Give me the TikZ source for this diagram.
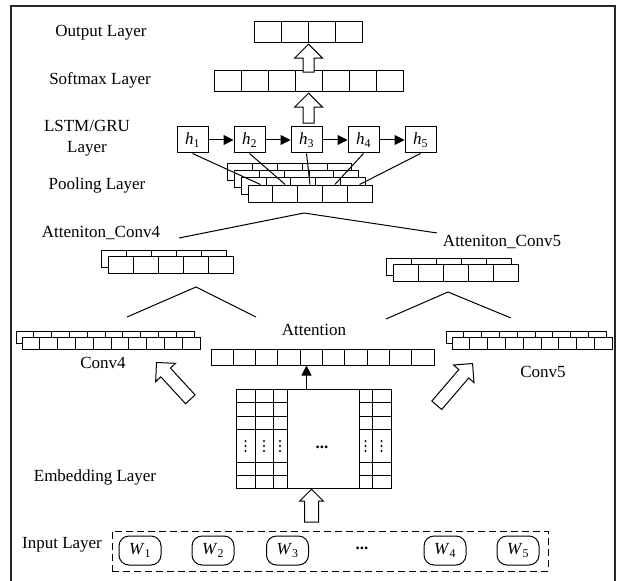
\documentclass[tikz,border=0pt]{standalone}
\usepackage{fontspec}
\setmainfont{Liberation Serif}
\usetikzlibrary{shapes.arrows,arrows.meta,calc}

\begin{document}
\begin{tikzpicture}[x=1pt, y=-1pt, line width=1pt,
  lbl/.style={inner sep=0pt, font=\fontsize{17}{21}\selectfont, align=center},
  cell/.style 2 args={draw, fill=white, inner sep=0pt, minimum width=#1, minimum height=#2},
  hbox/.style={draw, fill=white, inner sep=0pt, minimum width=31, minimum height=26, font=\fontsize{17}{21}\selectfont},
  word/.style={draw, rounded corners=10pt, inner sep=0pt, minimum width=42, minimum height=29, font=\fontsize{17}{21}\selectfont},
  hollow/.style={single arrow, draw, fill=white, inner xsep=0pt, inner ysep=5pt, single arrow head extend=8.5pt, minimum height=#1, anchor=tip},
  link/.style={-{Triangle[length=10pt,width=10pt]}}]

\useasboundingbox (0,0) rectangle (620,580);
\draw[line width=1.6pt, black!85] (11,590) -- (11,6) -- (615,6) -- (615,590);

% Output layer
\node[lbl] (outlbl) at (101,33) {Output Layer};
\foreach \i in {1,...,4}
  \node[cell={27}{21}] (out\i) at ({240.5+27*\i},32.5) {};

% Softmax layer
\node[lbl] (softlbl) at (100,80) {Softmax Layer};
\foreach \i in {1,...,7}
  \node[cell={27}{21}] (soft\i) at ({200.5+27*\i},81.5) {};
\node[hollow=28, rotate=90] (up2) at (out2.south east) {};

% LSTM/GRU layer
\node[lbl] (lstmlbl) at (87,138.5) {LSTM/GRU\\Layer};
\foreach \i in {1,...,5}
  \node[hbox] (h\i) at ({135.5+57*\i},140) {\textit{h}\textsubscript{\i}};
\foreach \i/\j in {1/2,2/3,3/4,4/5}
  \draw[link] (h\i) -- (h\j);
\node[hollow=30, rotate=90] (up1) at (soft4.south) {};

% Pooling layer
\node[lbl] (poollbl) at (97,185) {Pooling Layer};
\foreach \k in {3,2,1,0}
  \foreach \i in {1,...,5}
    \node[cell={24.8}{17}] (pool\k\i) at ({235.6+24.8*\i-6.7*\k},{193.5-7.3*\k}) {};
\foreach \i in {1,...,5}
  \draw (h\i.south) -- (pool0\i.north);

% Attention conv layers
\node[lbl] (ac4lbl) at (101,233) {Atteniton\_Conv4};
\node[lbl] (ac5lbl) at (502,242) {Atteniton\_Conv5};
\coordinate (poolfork) at (304,213);
\coordinate (ac4end) at (179,238);
\coordinate (ac5end) at (437,233);
\draw (ac4end) -- (poolfork) -- (ac5end);
\foreach \k in {1,0}
  \foreach \i in {1,...,5} {
    \node[cell={25}{17}] (ac4\k\i) at ({95.5+25*\i-7*\k},{264.5-6*\k}) {};
    \node[cell={25}{17}] (ac5\k\i) at ({380.5+25*\i-7*\k},{272.5-6*\k}) {};
  }
\coordinate (ac4fork) at (196,287);
\coordinate (ac5fork) at (448,292);
\draw (127,317) -- (ac4fork) -- (256,317);
\draw (386,319) -- (ac5fork) -- (511,318);

% Conv4 / Conv5
\foreach \k in {1,0} {
  \foreach \i in {1,...,10}
    \node[cell={17.8}{12}] (cv4\k\i) at ({13.1+17.8*\i-6*\k},{343-6*\k}) {};
  \foreach \i in {1,...,9}
    \node[cell={17.8}{12}] (cv5\k\i) at ({443.1+17.8*\i-6*\k},{343-6*\k}) {};
}
\node[lbl] (cv4lbl) at (103,363) {Conv4};
\node[lbl] (cv5lbl) at (543,372) {Conv5};

% Attention
\node[lbl] (attlbl) at (314,330) {Attention};
\foreach \i in {1,...,10}
  \node[cell={22.3}{16}] (att\i) at ({199.85+22.3*\i},357) {};

% Embedding layer
\node[lbl] (emblbl) at (95,477) {Embedding Layer};
\node[draw, inner sep=0pt, minimum width=155, minimum height=99] (emb) at (313.5,438.5) {};
\foreach \x in {255,273,287,359,372}
  \draw (\x,389) -- (\x,488);
\foreach \y in {402,416,429,462,475} {
  \draw (236,\y) -- (287,\y);
  \draw (359,\y) -- (391,\y);
}
% vertical dots
\foreach \x in {245.5,264,280,365.5,381.5}
  \foreach \y in {441,446,451}
    \fill (\x,\y) circle (1.2);
\node[lbl] (embdots) at (322,447) {\textbf{...}};
\draw[link] ([xshift=-7pt]emb.north) -- ([xshift=-7pt]emb.north |- att1.south);
\node[hollow=50, rotate=132.6, inner ysep=6pt, single arrow head extend=7pt] (upl) at (156,362) {};
\node[hollow=55, rotate=49.4, inner ysep=6pt, single arrow head extend=7pt] (upr) at (473,363) {};

% Input layer
\node[lbl] (inlbl) at (62,545) {Input Layer};
\node[draw, dash pattern=on 7pt off 4pt, inner sep=0pt, minimum width=436, minimum height=40] (inbox) at (330,551) {};
\foreach \x/\i in {140/1,213/2,287.5/3,445/4,518/5}
  \node[word] (w\i) at (\x,550.5) {\textit{W}\textsubscript{\i}};
\node[lbl] (indots) at (362,548) {\textbf{...}};
\node[hollow=33, rotate=90, inner ysep=6.5pt, single arrow head extend=5pt] (up0) at ([xshift=-2pt]emb.south) {};

\end{tikzpicture}
\end{document}
